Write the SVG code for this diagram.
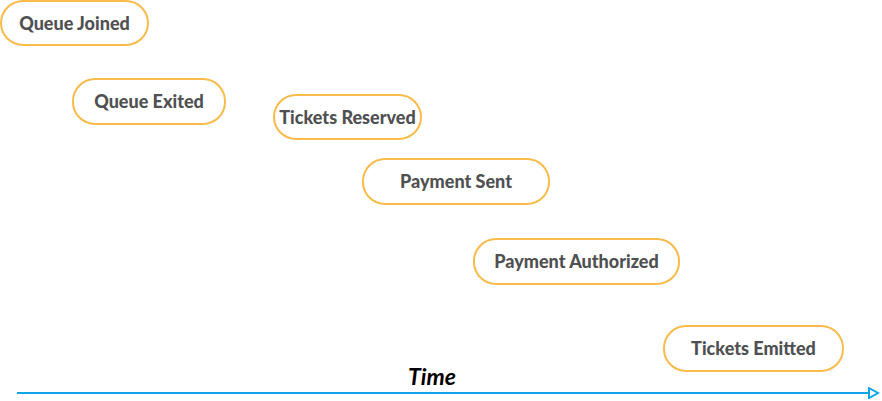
<svg xmlns="http://www.w3.org/2000/svg" width="882" height="401" viewBox="0 0 882 401">
<style>
.n rect{fill:#fff;stroke:#F9BB4B;stroke-width:2}
.n text{font-family:Lato,"Liberation Sans",sans-serif;font-weight:900;font-size:18px;fill:#4f5052;text-anchor:middle;dominant-baseline:central}
.t{font-family:Lato,"Liberation Sans",sans-serif;font-weight:bold;font-style:italic;font-size:23px;fill:#000;text-anchor:middle}
.ax{stroke:#11A5E8;stroke-width:2;fill:none}
</style>
<defs>
<marker id="arr" markerWidth="12" markerHeight="12" refX="10" refY="6" orient="auto" markerUnits="userSpaceOnUse">
<path d="M1,1 L10,6 L1,11 Z" fill="#fff" stroke="#11A5E8" stroke-width="2"/>
</marker>
</defs>
<g id="connectors">
<line class="ax" x1="17" y1="393" x2="878" y2="393" marker-end="url(#arr)"/>
</g>
<text class="t" x="432" y="385">Time</text>
<g id="n1" class="n"><rect x="1" y="1" width="147" height="44" rx="22"/><text x="74.5" y="22.5">Queue Joined</text></g>
<g id="n2" class="n"><rect x="73" y="79" width="152" height="45" rx="22"/><text x="149" y="101">Queue Exited</text></g>
<g id="n3" class="n"><rect x="274" y="95" width="147" height="44" rx="22"/><text x="347.5" y="116.5">Tickets Reserved</text></g>
<g id="n4" class="n"><rect x="363" y="159" width="186" height="45" rx="22"/><text x="456" y="181">Payment Sent</text></g>
<g id="n5" class="n"><rect x="474" y="239" width="205" height="45" rx="22"/><text x="576.5" y="261">Payment Authorized</text></g>
<g id="n6" class="n"><rect x="664" y="326" width="179" height="45" rx="22"/><text x="753.5" y="348">Tickets Emitted</text></g>
</svg>
